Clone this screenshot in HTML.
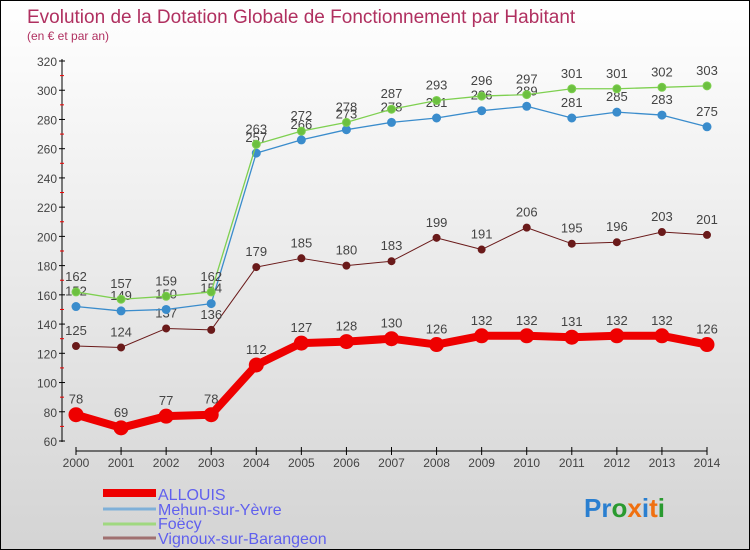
<!DOCTYPE html>
<html><head><meta charset="utf-8"><style>
body{margin:0}
#c{width:748px;height:548px;border:1px solid #000;background:linear-gradient(#fff,#d4d4d4);position:relative;overflow:hidden;font-family:"Liberation Sans",sans-serif}
</style></head><body>
<div id="c">
<svg id="s" width="748" height="548" xmlns="http://www.w3.org/2000/svg">
<text x="26" y="22" font-size="19" fill="#b03060">Evolution de la Dotation Globale de Fonctionnement par Habitant</text>
<text x="26" y="39" font-size="12" fill="#b03060">(en € et par an)</text>
<g id="axes"></g><g id="series"></g>
<g>
<line x1="102" y1="492" x2="155" y2="492" stroke="#e00" stroke-width="8"/>
<text x="157" y="499" font-size="16" fill="#6060ee">ALLOUIS</text>
<line x1="102" y1="508" x2="155" y2="508" stroke="#7fb0d8" stroke-width="3"/>
<text x="157" y="514" font-size="16" fill="#6060ee">Mehun-sur-Yèvre</text>
<line x1="102" y1="523" x2="155" y2="523" stroke="#a0d880" stroke-width="3"/>
<text x="157" y="528" font-size="16" fill="#6060ee">Foëcy</text>
<line x1="102" y1="537" x2="155" y2="537" stroke="#a07070" stroke-width="3"/>
<text x="157" y="543" font-size="16" fill="#6060ee">Vignoux-sur-Barangeon</text>
</g>
<g font-size="26" font-weight="bold">
<text x="583" y="516"><tspan fill="#2a7fd0">Pr</tspan><tspan fill="#2a9a30">o</tspan><tspan fill="#f07010">x</tspan><tspan fill="#2a7fd0">i</tspan><tspan fill="#f07010">t</tspan><tspan fill="#2a9a30">i</tspan></text>
</g>
</svg>
</div>
<script>
const years=[2000,2001,2002,2003,2004,2005,2006,2007,2008,2009,2010,2011,2012,2013,2014];
const yTicks=[60,80,100,120,140,160,180,200,220,240,260,280,300,320];
const allouis=[78,69,77,78,112,127,128,130,126,132,132,131,132,132,126];
const mehun=[152,149,150,154,257,266,273,278,281,286,289,281,285,283,275];
const foecy=[162,157,159,162,263,272,278,287,293,296,297,301,301,302,303];
const vignoux=[125,124,137,136,179,185,180,183,199,191,206,195,196,203,201];
const NS="http://www.w3.org/2000/svg";
const xS=i=>75+i*(706-75)/(years.length-1);
const yS=v=>440-(v-60)*(380/260);
function mk(p,t,a){const e=document.createElementNS(NS,t);for(const k in a)e.setAttribute(k,a[k]);p.appendChild(e);return e;}
const ax=document.getElementById('axes');
let e=mk(ax,'line',{x1:61,y1:58,x2:61,y2:441,stroke:'#000'});


yTicks.forEach(v=>{
 mk(ax,'line',{x1:58,x2:64,y1:yS(v),y2:yS(v),stroke:'#000'});
 if(v<320)mk(ax,'line',{x1:59,x2:63,y1:yS(v+10),y2:yS(v+10),stroke:'#e00'});
 const t=mk(ax,'text',{x:56,y:yS(v)+5,'font-size':12,fill:'#444','text-anchor':'end'});
 t.textContent=v;
 
 
});
e=mk(ax,'line',{x1:75,y1:450,x2:706,y2:450,stroke:'#000'});


years.forEach((y,i)=>{
 mk(ax,'line',{x1:xS(i),x2:xS(i),y1:446,y2:454,stroke:'#000'});
 const t=mk(ax,'text',{x:xS(i),y:466,'font-size':12,fill:'#444','text-anchor':'middle'});
 t.textContent=y;
 
 
});
const sg=document.getElementById('series');
function draw(name,data,color,dot,w,r){
 const g=mk(sg,'g',{});
 
 
 mk(g,'polyline',{points:data.map((v,i)=>xS(i)+','+yS(v)).join(' '),fill:'none',stroke:color,'stroke-width':w,'stroke-linejoin':'round'});
 data.forEach((v,i)=>{
  const c=mk(g,'circle',{cx:xS(i),cy:yS(v),r:r,fill:dot,stroke:color,'stroke-width':1});
  
  
  const t=mk(g,'text',{x:xS(i),y:yS(v)-11,'font-size':13,fill:'#444','text-anchor':'middle'});
  t.textContent=v;
  
  
 });
}
draw('vignoux',vignoux,'#6a1a1a','#6a1a1a',1,3.5);
draw('mehun',mehun,'#3a8ccc','#3a8ccc',1.3,4);
draw('foecy',foecy,'#7ed050','#6cc040',1.3,4);
draw('allouis',allouis,'#ee0000','#ee0000',8,7);
</script>
</body></html>
